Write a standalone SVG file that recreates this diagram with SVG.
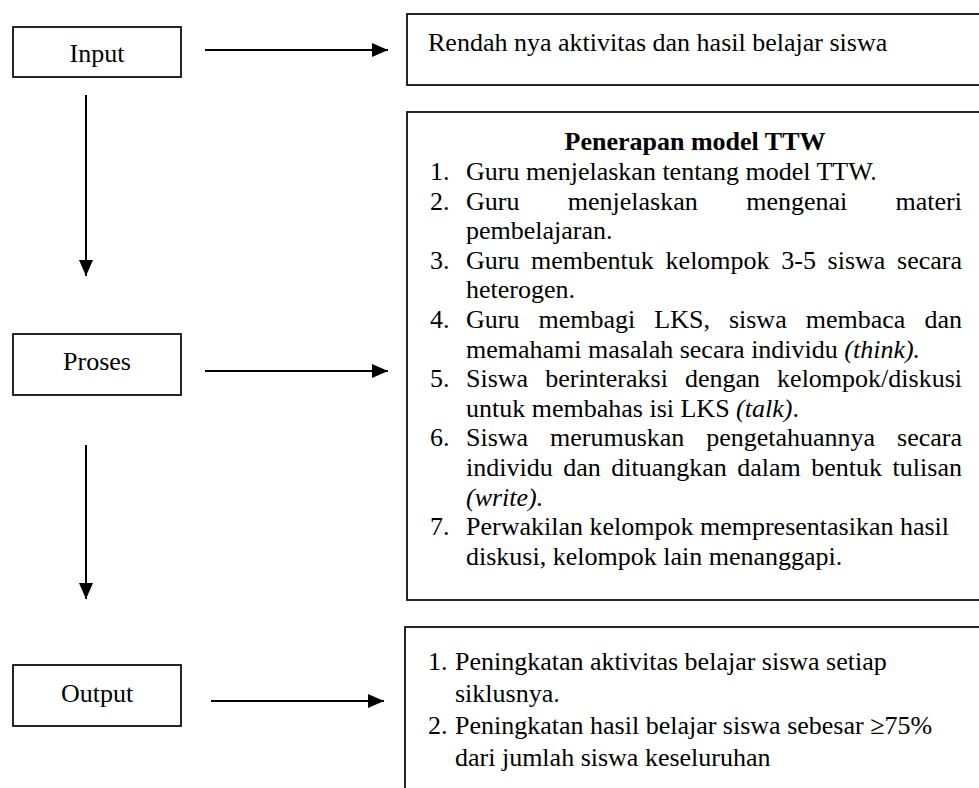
<svg xmlns="http://www.w3.org/2000/svg" width="979" height="788" viewBox="0 0 979 788">
<style>
.box{fill:#fff;stroke:#000;stroke-width:1.7}
.t{font-family:"Liberation Serif","Times New Roman",serif;font-size:26px;fill:#000}
.c{text-anchor:middle}
.b{font-weight:bold}
.i{font-style:italic}
.conn{stroke:#000;stroke-width:2;fill:none}
</style>
<defs>
<marker id="ah" markerUnits="userSpaceOnUse" markerWidth="16" markerHeight="14" refX="16" refY="7" orient="auto">
<path d="M0,0 L16,7 L0,14 z" fill="#000"/>
</marker>
</defs>
<rect width="979" height="788" fill="#fff"/>

<g id="input">
<rect class="box" x="13" y="27" width="168" height="50"/>
<text class="t c" x="97" y="62">Input</text>
</g>

<g id="proses">
<rect class="box" x="13" y="334" width="168" height="61"/>
<text class="t c" x="97" y="370">Proses</text>
</g>

<g id="output">
<rect class="box" x="13" y="665" width="168" height="61"/>
<text class="t c" x="97" y="702">Output</text>
</g>

<g id="masalah">
<rect class="box" x="407" y="14" width="600" height="71"/>
<text class="t" x="428" y="51">Rendah nya aktivitas dan hasil belajar siswa</text>
</g>

<g id="penerapan">
<rect class="box" x="407" y="112" width="600" height="488"/>
<text class="t c b" x="695" y="150">Penerapan model TTW</text>
<text class="t" x="430" y="180">1.</text>
<text class="t" x="466" y="180">Guru menjelaskan tentang model TTW.</text>
<text class="t" x="430" y="209.6">2.</text>
<text class="t"><tspan x="466" y="209.6">Guru</tspan><tspan x="567.8" y="209.6">menjelaskan</tspan><tspan x="746.2" y="209.6">mengenai</tspan><tspan x="895.6" y="209.6">materi</tspan></text>
<text class="t" x="466" y="239.2">pembelajaran.</text>
<text class="t" x="430" y="268.8">3.</text>
<text class="t"><tspan x="466" y="268.8">Guru</tspan><tspan x="531.1" y="268.8">membentuk</tspan><tspan x="665.6" y="268.8">kelompok</tspan><tspan x="781.3" y="268.8">3-5</tspan><tspan x="827.6" y="268.8">siswa</tspan><tspan x="897.1" y="268.8">secara</tspan></text>
<text class="t" x="466" y="298.4">heterogen.</text>
<text class="t" x="430" y="328">4.</text>
<text class="t"><tspan x="466" y="328">Guru</tspan><tspan x="538.5" y="328">membagi</tspan><tspan x="654.3" y="328">LKS,</tspan><tspan x="728.9" y="328">siswa</tspan><tspan x="805.7" y="328">membaca</tspan><tspan x="924.4" y="328">dan</tspan></text>
<text class="t" x="466" y="357.6">memahami masalah secara individu <tspan class="i">(think).</tspan></text>
<text class="t" x="430" y="387.2">5.</text>
<text class="t"><tspan x="466" y="387.2">Siswa</tspan><tspan x="545.2" y="387.2">berinteraksi</tspan><tspan x="685" y="387.2">dengan</tspan><tspan x="777.1" y="387.2">kelompok/diskusi</tspan></text>
<text class="t" x="466" y="416.8">untuk membahas isi LKS <tspan class="i">(talk)</tspan>.</text>
<text class="t" x="430" y="446.4">6.</text>
<text class="t"><tspan x="466" y="446.4">Siswa</tspan><tspan x="550" y="446.4">merumuskan</tspan><tspan x="706.2" y="446.4">pengetahuannya</tspan><tspan x="897.1" y="446.4">secara</tspan></text>
<text class="t"><tspan x="466" y="476">individu</tspan><tspan x="563.2" y="476">dan</tspan><tspan x="611.2" y="476">dituangkan</tspan><tspan x="737.3" y="476">dalam</tspan><tspan x="811.3" y="476">bentuk</tspan><tspan x="892.6" y="476">tulisan</tspan></text>
<text class="t i" x="466" y="505.6">(write).</text>
<text class="t" x="430" y="535.2">7.</text>
<text class="t" x="466" y="535.2">Perwakilan kelompok mempresentasikan hasil</text>
<text class="t" x="466" y="564.8">diskusi, kelompok lain menanggapi.</text>
</g>

<g id="hasil">
<rect class="box" x="405" y="627" width="600" height="200"/>
<text class="t" x="428" y="670">1.</text>
<text class="t" x="455" y="670">Peningkatan aktivitas belajar siswa setiap</text>
<text class="t" x="455" y="702">siklusnya.</text>
<text class="t" x="428" y="734">2.</text>
<text class="t" x="455" y="734">Peningkatan hasil belajar siswa sebesar ≥75%</text>
<text class="t" x="455" y="766">dari jumlah siswa keseluruhan</text>
</g>

<g id="connectors">
<line class="conn" x1="205" y1="50" x2="388" y2="50" marker-end="url(#ah)"/>
<line class="conn" x1="205" y1="371" x2="388" y2="371" marker-end="url(#ah)"/>
<line class="conn" x1="211" y1="701" x2="384" y2="701" marker-end="url(#ah)"/>
<line class="conn" x1="86" y1="95" x2="86" y2="276" marker-end="url(#ah)"/>
<line class="conn" x1="86" y1="445" x2="86" y2="599" marker-end="url(#ah)"/>
</g>
</svg>
